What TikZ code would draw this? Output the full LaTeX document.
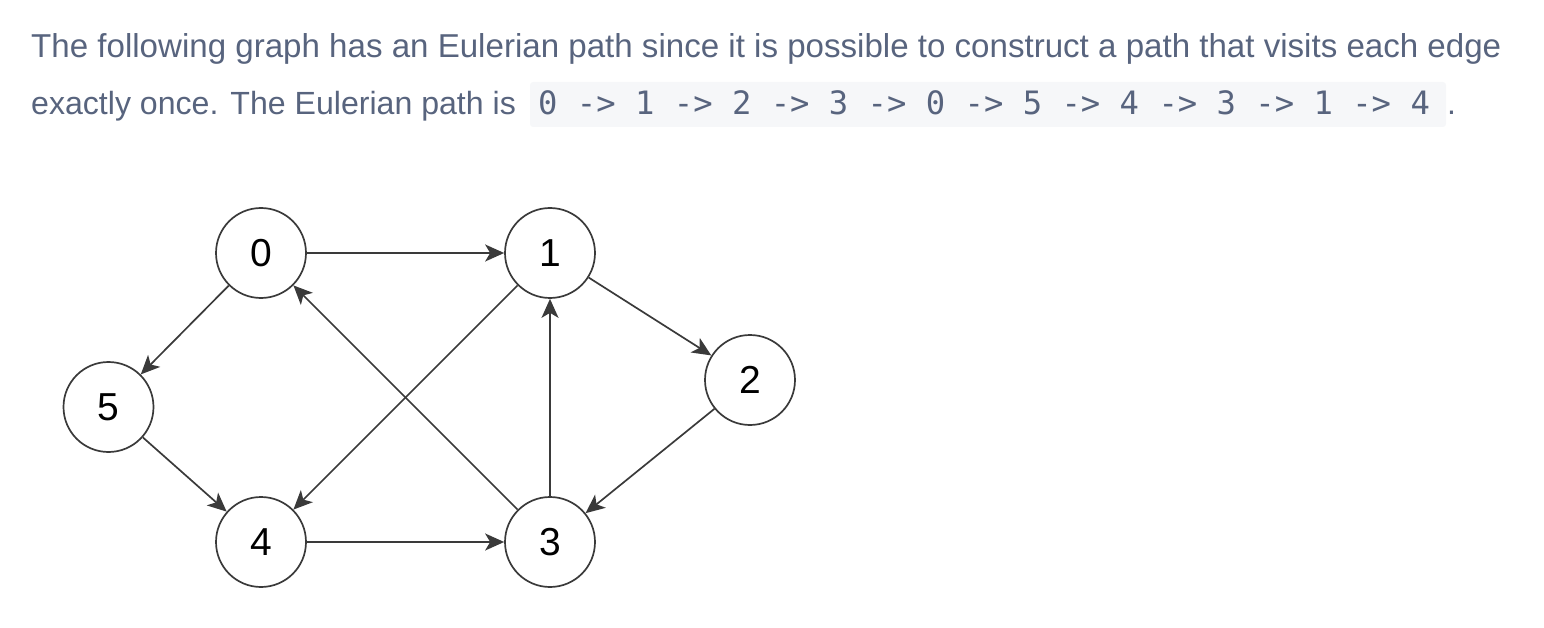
\documentclass[tikz,border=0pt]{standalone}
\usepackage{fontspec}
\setmainfont{Liberation Sans}
\newfontfamily\codefont{DejaVu Sans Mono}
\usetikzlibrary{arrows.meta}
\definecolor{txtcol}{RGB}{88,100,126}
\definecolor{codebg}{RGB}{246,247,249}
\definecolor{edgecol}{RGB}{58,58,58}
\tikzset{
  vtx/.style={circle,draw=edgecol,line width=1.7pt,fill=white,minimum size=90pt,inner sep=0pt,font=\fontsize{39}{40}\selectfont,text=black},
  edg/.style={draw=edgecol,line width=1.7pt,-{Stealth[length=19pt,width=17pt,inset=5pt]}},
  para/.style={anchor=base west,inner sep=0pt,text=txtcol,font=\fontsize{32}{38}\selectfont},
}
\begin{document}
\begin{tikzpicture}[x=1pt,y=-1pt]
\useasboundingbox (0,0) rectangle (1544,628);
% text
\node[para,font=\fontsize{33.1}{38}\selectfont] (l1) at (31,58) {The following graph has an Eulerian path since it is possible to construct a path that visits each edge};
\node[para,font=\fontsize{32.1}{38}\selectfont] (l2) at (31,115) {exactly once. The Eulerian path is};
\fill[codebg,rounded corners=3pt] (530,82) rectangle (1446,127);
\node[para,font=\codefont\fontsize{32.2}{38}\selectfont] (code) at (538,115) {0 -> 1 -> 2 -> 3 -> 0 -> 5 -> 4 -> 3 -> 1 -> 4};
\node[para] (dot) at (1447,115) {.};
% graph
\node[vtx] (n0) at (261,253) {0};
\node[vtx] (n1) at (550,253) {1};
\node[vtx] (n2) at (750,380) {2};
\node[vtx] (n5) at (108.5,407) {5};
\node[vtx] (n4) at (261,542) {4};
\node[vtx] (n3) at (550,542) {3};
\draw[edg] (n0) -- (n1);
\draw[edg] (n1) -- (n2);
\draw[edg] (n2) -- (n3);
\draw[edg] (n3) -- (n0);
\draw[edg] (n0) -- (n5);
\draw[edg] (n5) -- (n4);
\draw[edg] (n4) -- (n3);
\draw[edg] (n3) -- (n1);
\draw[edg] (n1) -- (n4);
\end{tikzpicture}
\end{document}
